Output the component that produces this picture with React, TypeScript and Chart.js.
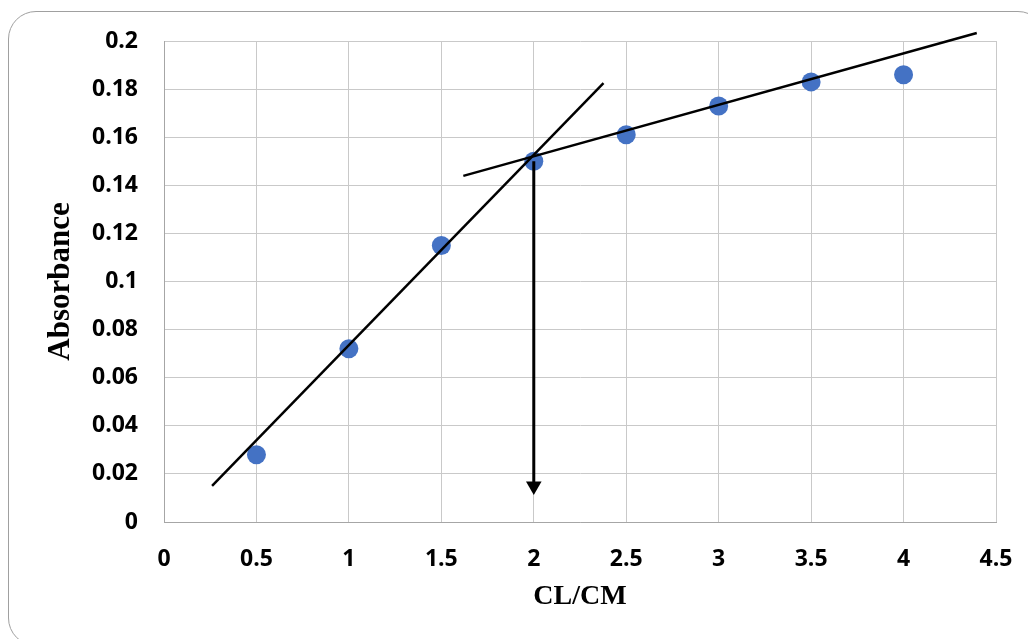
import React, { useEffect, useRef } from "react";
import { Chart, registerables } from "chart.js";

Chart.register(...registerables);

// Measured data
const concentrationRatio = [0.5, 1, 1.5, 2, 2.5, 3, 3.5, 4];
const absorbance = [0.028, 0.072, 0.115, 0.15, 0.161, 0.173, 0.183, 0.186];

// Hand-drawn fit lines (end points)
const risingLineX = [0.26, 2.377];
const risingLineY = [0.015, 0.1825];
const plateauLineX = [1.619, 4.396];
const plateauLineY = [0.1439, 0.2033];

// Arrow from intersection down to the x-axis
const arrowX = [2, 2];
const arrowY = [0.15, 0.015];

const xTickLabels = ["0", "0.5", "1", "1.5", "2", "2.5", "3", "3.5", "4", "4.5"];
const yTickLabels = ["0", "0.02", "0.04", "0.06", "0.08", "0.1", "0.12", "0.14", "0.16", "0.18", "0.2"];

const toPoints = (xs: number[], ys: number[]) => xs.map((x, i) => ({ x, y: ys[i] }));

export default function App() {
  const canvasRef = useRef<HTMLCanvasElement | null>(null);

  useEffect(() => {
    if (!canvasRef.current) return;
    const tickFont = { family: "'Open Sans', sans-serif", size: 23, weight: "bold" as const };
    const chart = new Chart(canvasRef.current, {
      type: "scatter",
      data: {
        datasets: [
          {
            label: "Arrow",
            data: toPoints(arrowX, arrowY),
            showLine: true,
            borderColor: "#000000",
            borderWidth: 3,
            backgroundColor: "#000000",
            pointRadius: [0, 9],
            pointHoverRadius: [0, 9],
            pointStyle: "triangle",
            rotation: 180,
            pointBorderWidth: 0,
            pointBackgroundColor: "#000000",
            clip: false,
          },
          {
            label: "Fit 1",
            data: toPoints(risingLineX, risingLineY),
            showLine: true,
            borderColor: "#000000",
            borderWidth: 2.5,
            pointRadius: 0,
            clip: false,
          },
          {
            label: "Fit 2",
            data: toPoints(plateauLineX, plateauLineY),
            showLine: true,
            borderColor: "#000000",
            borderWidth: 2.5,
            pointRadius: 0,
            clip: false,
          },
          {
            label: "Absorbance",
            data: toPoints(concentrationRatio, absorbance),
            showLine: false,
            pointRadius: 9.5,
            pointHoverRadius: 9.5,
            pointBackgroundColor: "#4472C4",
            pointBorderWidth: 0,
            backgroundColor: "#4472C4",
          },
        ],
      },
      options: {
        responsive: false,
        animation: false,
        events: [],
        layout: { padding: { top: 41, right: 32, bottom: 0, left: 0 } },
        plugins: {
          legend: { display: false },
          tooltip: { enabled: false },
        },
        scales: {
          x: {
            type: "linear",
            min: 0,
            max: 4.5,
            afterFit: (scale: any) => {
              scale.height = 117;
            },
            ticks: {
              stepSize: 0.5,
              padding: 0,
              color: "#000000",
              font: tickFont,
              maxRotation: 0,
              autoSkip: false,
              callback: (_v: any, i: number) => xTickLabels[i],
            },
            grid: {
              color: "#c9c9c9",
              lineWidth: 1,
              drawTicks: true,
              tickLength: 24,
              tickColor: "rgba(0,0,0,0)",
            },
            border: { color: "#a6a6a6", width: 1 },
            title: {
              display: true,
              text: "CL/CM",
              color: "#000000",
              font: { family: "'Liberation Serif', 'Times New Roman', serif", size: 28, weight: "bold" },
              padding: { top: 0, bottom: 25 },
            },
          },
          y: {
            type: "linear",
            min: 0,
            max: 0.2,
            afterFit: (scale: any) => {
              scale.width = 164;
            },
            ticks: {
              stepSize: 0.02,
              padding: 26,
              color: "#000000",
              font: tickFont,
              autoSkip: false,
              callback: (_v: any, i: number) => yTickLabels[i],
            },
            grid: { color: "#c9c9c9", lineWidth: 1, drawTicks: false },
            border: { color: "#a6a6a6", width: 1 },
            title: {
              display: true,
              text: "Absorbance",
              color: "#000000",
              font: { family: "'Liberation Serif', 'Times New Roman', serif", size: 31, weight: "bold" },
              padding: { top: 42, bottom: 0 },
            },
          },
        },
      },
    } as any);
    return () => chart.destroy();
  }, []);

  return (
    <div style={{ position: "fixed", left: 0, top: 0, width: 1028, height: 639, overflow: "hidden", background: "#ffffff" }}>
      <div
        style={{
          position: "absolute",
          left: 8,
          top: 11,
          width: 1038,
          height: 635,
          border: "1px solid #a0a0a0",
          borderRadius: 28,
          boxSizing: "border-box",
        }}
      />
      <canvas ref={canvasRef} width={1028} height={639} style={{ position: "absolute", left: 0, top: 0, width: 1028, height: 639 }} />
    </div>
  );
}
